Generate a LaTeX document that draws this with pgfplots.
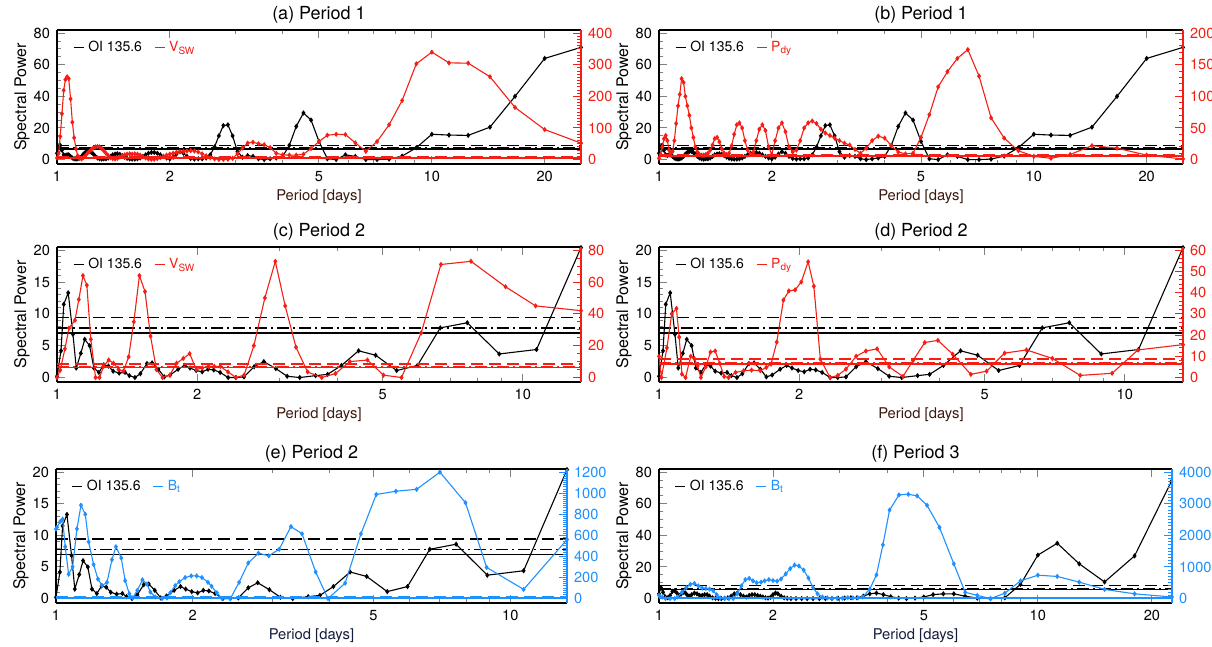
\documentclass[border=0pt]{standalone}
\usepackage{fontspec}
\setmainfont{TeX Gyre Heros}
\usepackage{pgfplots}
\pgfplotsset{compat=1.18}
\usepackage{pgfplotstable}
\definecolor{myred}{RGB}{245,30,20}
\definecolor{myblue}{RGB}{30,144,255}
\definecolor{lblA}{RGB}{60,25,15}
\definecolor{lblB}{RGB}{20,30,60}

\pgfplotstableread{
P V
1.000 4
1.010 8
1.020 9
1.031 6
1.042 3
1.053 2.5
1.064 3
1.075 3
1.087 2
1.099 1
1.111 0.5
1.124 0.3
1.136 0.5
1.149 1
1.163 2
1.176 3.5
1.190 4.5
1.205 5
1.220 5.2
1.235 4.5
1.250 3.5
1.266 2
1.282 1
1.299 0.5
1.316 0.3
1.333 0.5
1.351 0.5
1.370 1
1.389 2
1.408 3
1.429 3.5
1.449 3.7
1.471 3.3
1.493 2.5
1.515 1.5
1.538 0.8
1.563 0.4
1.587 0.3
1.613 0.3
1.639 0.5
1.667 1
1.695 2
1.724 3
1.754 4
1.786 4.5
1.818 4.5
1.852 4
1.887 3
1.923 2
1.961 1
2.000 0.5
2.041 1.5
2.083 3.5
2.128 5
2.174 4
2.222 2
2.273 0.7
2.326 0.3
2.381 0.5
2.439 0.5
2.500 1
2.564 3
2.632 8
2.703 15
2.778 21.5
2.857 22
2.941 15
3.030 5
3.125 1.5
3.226 2.5
3.333 2
3.448 0.5
3.571 0
3.704 0.5
3.846 1
4.000 2
4.167 9
4.348 21
4.545 29.5
4.762 25
5.000 11.5
5.263 0.5
5.556 0
5.882 3
6.250 2
6.667 0
7.143 0
7.692 0.3
8.333 2.2
9.091 7.5
10.00 16
11.11 15.5
12.50 15.3
14.29 20.5
16.67 40
20.00 64
25.00 71
}\blackA

\pgfplotstableread{
P V
1.000 5
1.010 20
1.020 73
1.031 145
1.042 219
1.053 253
1.064 262
1.075 256
1.087 192
1.099 118
1.111 69
1.124 34
1.136 12
1.149 3
1.163 2
1.176 6
1.190 12
1.205 20
1.220 26
1.235 32
1.250 37
1.266 40
1.282 41
1.299 40
1.316 35
1.333 28
1.351 20
1.370 12
1.389 6
1.408 3
1.429 2
1.449 4
1.471 8
1.493 12
1.515 15
1.538 17
1.563 18
1.587 17
1.613 18
1.639 17
1.667 14
1.695 9
1.724 5
1.754 2
1.786 1
1.818 1
1.852 3
1.887 6
1.923 10
1.961 14
2.000 17
2.041 20
2.083 23
2.128 25
2.174 26
2.222 27
2.273 28
2.326 27
2.381 24
2.439 18
2.500 12
2.564 6
2.632 2
2.703 0.5
2.778 0.5
2.857 1
2.941 4
3.030 18
3.125 37
3.226 52
3.333 55
3.448 50
3.571 47
3.704 38
3.846 20
4.000 15
4.167 14
4.348 14
4.545 17
4.762 35
5.000 57
5.263 77
5.556 80
5.882 79
6.250 53
6.667 26
7.143 57
7.692 110
8.333 187
9.091 303
10.00 340
11.11 306
12.50 305
14.29 262
16.67 165
20.00 95
25.00 52
}\redA

\pgfplotstableread{
P V
1.000 2
1.010 8
1.020 20
1.031 33
1.042 38
1.053 30
1.064 15
1.075 10
1.087 13
1.099 30
1.111 57
1.124 85
1.136 103
1.149 128
1.163 122
1.176 100
1.190 85
1.205 70
1.220 50
1.235 35
1.250 20
1.266 12
1.282 8
1.299 7
1.316 7
1.333 8
1.351 10
1.370 15
1.389 23
1.408 33
1.429 35
1.449 28
1.471 17
1.493 10
1.515 8
1.538 10
1.563 22
1.587 40
1.613 55
1.639 58
1.667 50
1.695 30
1.724 15
1.754 8
1.786 12
1.818 30
1.852 48
1.887 55
1.923 46
1.961 20
2.000 8
2.041 30
2.083 50
2.128 58
2.174 44
2.222 20
2.273 12
2.326 15
2.381 30
2.439 50
2.500 58
2.564 61
2.632 57
2.703 48
2.778 42
2.857 38
2.941 34
3.030 30
3.125 26
3.226 23
3.333 16
3.448 10
3.571 18
3.704 30
3.846 37
4.000 34
4.167 22
4.348 12
4.545 9
4.762 10
5.000 35
5.263 71
5.556 115
5.882 139
6.250 160
6.667 174
7.143 132
7.692 66
8.333 34
9.091 14
10.00 5
11.11 2
12.50 8
14.29 22
16.67 18
20.00 7
25.00 1
}\redB

\pgfplotstableread{
P V
1.000 0.2
1.020 4.2
1.034 11.5
1.057 13.3
1.082 6.8
1.100 1.5
1.125 3.8
1.147 6.0
1.175 5.0
1.200 1.5
1.230 0.8
1.260 2.0
1.290 1.8
1.320 1.0
1.360 0.7
1.400 0.8
1.430 0.3
1.470 0
1.510 0.6
1.560 2.2
1.600 2.3
1.650 1.3
1.700 0.1
1.750 0.4
1.820 1.3
1.880 1.9
1.930 1.5
1.990 1.1
2.050 0.9
2.110 1.3
2.170 1.2
2.240 0.8
2.330 0
2.420 0
2.520 0.1
2.650 1.7
2.780 2.5
2.950 1.4
3.120 0.2
3.320 0
3.590 0.3
3.810 0.5
4.080 1.9
4.440 4.2
4.830 3.5
5.360 1.1
5.940 1.9
6.650 7.8
7.600 8.6
8.900 3.7
10.70 4.4
13.33 20.4
}\blackC

\pgfplotstableread{
P V
1.000 0
1.016 4.6
1.040 18
1.061 31
1.093 36
1.114 49
1.137 64
1.159 58
1.182 24
1.210 0
1.234 0
1.259 7
1.291 11
1.322 9
1.356 5
1.389 4
1.425 13
1.462 35
1.503 64
1.545 54
1.588 26
1.635 5
1.685 0
1.746 1.5
1.806 9
1.867 12
1.927 15
1.991 5
2.051 6
2.113 7
2.176 7
2.241 7
2.329 3.5
2.423 0
2.521 1.5
2.646 20
2.794 50
2.942 73
3.089 45
3.259 19
3.452 3.5
3.701 0
3.962 2.5
4.252 10
4.639 11
5.022 1.5
5.490 0
6.050 28
6.670 71
7.740 73
9.180 57
10.65 45
13.33 42
}\redC

\pgfplotstableread{
P V
1.000 10
1.012 0
1.040 14
1.065 30
1.090 32.5
1.105 19
1.120 1.6
1.140 0
1.170 10
1.190 9
1.210 5.5
1.230 0
1.260 5
1.290 12
1.320 12.5
1.350 6.7
1.380 0.5
1.410 0
1.460 2.4
1.520 3.2
1.580 3.5
1.650 3.2
1.700 4.8
1.740 6.3
1.790 16.7
1.850 36.5
1.900 40.8
1.960 41.3
2.020 45
2.090 54.5
2.150 43
2.220 8.7
2.330 0
2.420 1
2.520 4
2.650 10
2.780 12.5
2.940 13.5
3.120 5
3.340 0.5
3.510 8
3.720 16.5
3.970 17.5
4.270 11
4.670 1.5
5.050 3
5.520 11.5
6.150 13
6.990 9
8.020 1
9.390 2
10.67 13
13.33 15.5
}\redD

\pgfplotstableread{
P V
1.000 660
1.005 677
1.022 732
1.034 754
1.048 492
1.066 231
1.088 302
1.112 662
1.135 886
1.160 800
1.180 538
1.210 323
1.237 185
1.263 123
1.295 154
1.328 369
1.355 492
1.392 385
1.420 169
1.450 46
1.475 6
1.510 77
1.550 178
1.586 138
1.613 62
1.654 15
1.712 0
1.755 6
1.785 55
1.830 123
1.868 160
1.925 200
1.985 215
2.040 215
2.095 200
2.160 154
2.200 117
2.260 55
2.320 0
2.420 0
2.530 154
2.650 338
2.790 431
2.940 406
3.100 468
3.290 683
3.480 615
3.730 252
3.970 0
4.330 146
4.690 614
5.070 988
5.600 1019
6.220 1037
7.000 1200
7.970 910
8.870 296
10.70 87
13.33 560
}\blueE

\pgfplotstableread{
P V
1.000 3
1.012 7
1.025 4
1.040 1
1.055 0.5
1.070 2
1.085 4.5
1.100 5
1.115 3.5
1.130 2
1.145 3
1.160 4
1.175 3.5
1.190 2
1.205 1.5
1.220 2.5
1.240 3.5
1.260 3
1.280 2
1.300 2
1.320 2.5
1.340 2.5
1.360 1.5
1.385 0.5
1.410 0.2
1.435 0
1.460 0
1.490 0.2
1.520 0.5
1.550 1.5
1.580 3
1.610 3.5
1.640 2.5
1.670 1.5
1.700 1
1.730 2
1.760 2.5
1.790 2.5
1.820 2
1.850 1.5
1.880 1
1.910 0.5
1.940 0.3
1.970 0.8
2.000 2.5
2.030 3.5
2.060 3
2.100 1.5
2.140 0.5
2.180 0.2
2.230 0
2.300 0
2.380 0
2.460 0
2.550 0
2.650 0
2.750 0
2.860 0
2.970 0.2
3.090 0.3
3.210 0.5
3.330 0.5
3.460 1.5
3.600 3
3.750 3.5
3.910 2.5
4.090 1.2
4.290 0.3
4.500 0
4.740 0.3
5.000 1
5.290 2.5
5.630 3
6.000 3
6.430 1.5
6.920 0.3
7.500 0
8.180 0.5
9.000 9
10.00 27.5
11.25 35
12.86 22
15.00 10.5
18.00 27
22.50 74
}\blackF

\pgfplotstableread{
P V
1.000 100
1.020 50
1.040 0
1.070 0
1.100 0
1.120 50
1.150 200
1.180 350
1.210 450
1.240 480
1.270 400
1.300 330
1.330 320
1.360 300
1.390 250
1.420 120
1.450 20
1.490 0
1.530 0
1.570 0
1.610 150
1.650 400
1.690 600
1.730 640
1.770 560
1.810 500
1.860 520
1.900 560
1.950 600
2.000 570
2.050 550
2.100 620
2.160 780
2.220 950
2.280 1060
2.340 1030
2.410 900
2.480 650
2.550 350
2.620 150
2.700 50
2.780 20
2.860 0
2.950 10
3.050 10
3.150 30
3.250 20
3.350 20
3.450 50
3.600 300
3.750 750
3.900 1700
4.060 2800
4.300 3280
4.550 3300
4.800 3250
5.100 2950
5.500 2250
6.000 1100
6.430 200
6.920 100
7.500 0
8.180 170
9.000 560
10.00 740
11.25 700
12.86 520
15.00 290
18.00 150
22.60 50
}\blueF

\newcommand{\sig}[5]{%
  \addplot[#1, line width=0.7pt, dash pattern=on 6pt off 3pt, forget plot] coordinates {(1,#3) (#2,#3)};
  \addplot[#1, line width=0.7pt, dash pattern=on 6pt off 2pt on 1pt off 2pt, forget plot] coordinates {(1,#4) (#2,#4)};
  \addplot[#1, line width=0.7pt, forget plot] coordinates {(1,#5) (#2,#5)};
}

\pgfplotsset{
  legend image code/.code={\draw[#1, mark=none, line width=0.6pt] (0pt,0pt) -- (5pt,0pt);},
  every axis/.append style={scale only axis, xmode=log, xmin=1,
    xtick={1,2,5,10,20}, xticklabels={1,2,5,10,20},
    minor xtick={3,4,6,7,8,9},
    tick align=inside, major tick length=4pt, minor tick length=2pt,
    tick style={line width=0.5pt},
    ticklabel style={font=\fontsize{7.3}{8}\selectfont},
    /pgf/number format/assume math mode=true,
    /pgf/number format/1000 sep={},
    axis line style={line width=0.6pt},
    legend style={at={(axis description cs:0.03,0.95)}, anchor=north west, draw=none, fill=none,
      font=\fontsize{7}{8}\selectfont, inner sep=0pt,
      /tikz/every even column/.append style={column sep=4pt}},
    legend columns=2,
  },
  every axis title/.style={at={(axis description cs:0.5,1)}, anchor=center, yshift=7.5pt,
    font=\fontsize{9}{10}\selectfont},
  lax/.style={axis y line*=left, ylabel={Spectral Power}, xlabel={Period [days]},
    every axis y label/.style={at={(axis description cs:0,0.5)}, rotate=90, anchor=center, yshift=17.5pt, font=\fontsize{8}{9}\selectfont},
    every axis x label/.style={at={(axis description cs:0.5,0)}, anchor=center, yshift=-16.5pt, font=\fontsize{7.4}{9}\selectfont}},
  rax/.style={axis x line=none, axis y line*=right, y axis line style={#1}, ytick style={#1}, yticklabel style={#1}},
}

\begin{document}
\begin{tikzpicture}
\path[use as bounding box] (0,0) rectangle (606pt,323.5pt);

% ---------- (a)
\begin{axis}[lax, x label style={text=lblA},
  at={(28.5pt,241.5pt)}, anchor=south west, width=262pt, height=67pt,
  xmax=25, ymin=-2.8, ymax=82, ytick={0,20,40,60,80}, minor y tick num=3,
  title={(a) Period 1}]
  \sig{black}{25}{9}{7.3}{6.7}
  \addplot[black, line width=0.55pt, mark=diamond*, mark size=0.9pt] table {\blackA};
\end{axis}
\begin{axis}[rax=myred,
  at={(28.5pt,241.5pt)}, anchor=south west, width=262pt, height=67pt,
  xmax=25, ymin=-14, ymax=410, ytick={0,100,200,300,400}, minor y tick num=9]
  \addlegendimage{black}\addlegendentry{OI 135.6}
  \sig{myred}{25}{8}{6}{5}
  \addplot[myred, line width=0.55pt, mark=diamond*, mark size=0.9pt] table {\redA};
  \addlegendentry{\textcolor{myred}{V\textsubscript{SW}}}
\end{axis}

% ---------- (b)
\begin{axis}[lax, x label style={text=lblA},
  at={(329.5pt,241.5pt)}, anchor=south west, width=262pt, height=67pt,
  xmax=25, ymin=-2.8, ymax=82, ytick={0,20,40,60,80}, minor y tick num=3,
  title={(b) Period 1}]
  \sig{black}{25}{9}{7.3}{6.7}
  \addplot[black, line width=0.55pt, mark=diamond*, mark size=0.9pt] table {\blackA};
\end{axis}
\begin{axis}[rax=myred,
  at={(329.5pt,241.5pt)}, anchor=south west, width=262pt, height=67pt,
  xmax=25, ymin=-7, ymax=205, ytick={0,50,100,150,200}, minor y tick num=4]
  \addlegendimage{black}\addlegendentry{OI 135.6}
  \sig{myred}{25}{8}{6.5}{5.5}
  \addplot[myred, line width=0.55pt, mark=diamond*, mark size=0.9pt] table {\redB};
  \addlegendentry{\textcolor{myred}{P\textsubscript{dy}}}
\end{axis}

% ---------- (c)
\begin{axis}[lax, x label style={text=lblA},
  at={(28.5pt,132.5pt)}, anchor=south west, width=262pt, height=67.5pt,
  xmax=13.33, ymin=-0.7, ymax=20.5, ytick={0,5,10,15,20}, minor y tick num=4,
  title={(c) Period 2}]
  \sig{black}{13.33}{9.4}{7.8}{7.0}
  \addplot[black, line width=0.55pt, mark=diamond*, mark size=0.9pt] table {\blackC};
\end{axis}
\begin{axis}[rax=myred,
  at={(28.5pt,132.5pt)}, anchor=south west, width=262pt, height=67.5pt,
  xmax=13.33, ymin=-2.8, ymax=82, ytick={0,20,40,60,80}, minor y tick num=3]
  \addlegendimage{black}\addlegendentry{OI 135.6}
  \sig{myred}{13.33}{8.5}{7}{6.3}
  \addplot[myred, line width=0.55pt, mark=diamond*, mark size=0.9pt] table {\redC};
  \addlegendentry{\textcolor{myred}{V\textsubscript{SW}}}
\end{axis}

% ---------- (d)
\begin{axis}[lax, x label style={text=lblA},
  at={(329.5pt,132.5pt)}, anchor=south west, width=262pt, height=67.5pt,
  xmax=13.33, ymin=-0.7, ymax=20.5, ytick={0,5,10,15,20}, minor y tick num=4,
  title={(d) Period 2}]
  \sig{black}{13.33}{9.4}{7.8}{7.0}
  \addplot[black, line width=0.55pt, mark=diamond*, mark size=0.9pt] table {\blackC};
\end{axis}
\begin{axis}[rax=myred,
  at={(329.5pt,132.5pt)}, anchor=south west, width=262pt, height=67.5pt,
  xmax=13.33, ymin=-2.1, ymax=61.5, ytick={0,10,20,30,40,50,60}, minor y tick num=4]
  \addlegendimage{black}\addlegendentry{OI 135.6}
  \sig{myred}{13.33}{8.7}{7.2}{6.3}
  \addplot[myred, line width=0.55pt, mark=diamond*, mark size=0.9pt] table {\redD};
  \addlegendentry{\textcolor{myred}{P\textsubscript{dy}}}
\end{axis}

% ---------- (e)
\begin{axis}[lax, x label style={text=lblB},
  at={(28pt,22pt)}, anchor=south west, width=255.5pt, height=67pt,
  xmax=13.33, ymin=-0.7, ymax=20.5, ytick={0,5,10,15,20}, minor y tick num=4,
  title={(e) Period 2}]
  \sig{black}{13.33}{9.4}{7.8}{7.0}
  \addplot[black, line width=0.55pt, mark=diamond*, mark size=0.9pt] table {\blackC};
\end{axis}
\begin{axis}[rax=myblue,
  at={(28pt,22pt)}, anchor=south west, width=255.5pt, height=67pt,
  xmax=13.33, ymin=-42, ymax=1230, ytick={0,200,400,600,800,1000,1200}, minor y tick num=9]
  \addlegendimage{black}\addlegendentry{OI 135.6}
  \sig{myblue}{13.33}{14}{9}{5}
  \addplot[myblue, line width=0.55pt, mark=diamond*, mark size=0.9pt] table {\blueE};
  \addlegendentry{\textcolor{myblue}{B\textsubscript{t}}}
\end{axis}

% ---------- (f)
\begin{axis}[lax, x label style={text=lblB},
  at={(329.5pt,22pt)}, anchor=south west, width=256.5pt, height=67pt,
  xmax=22.6, ymin=-2.8, ymax=82, ytick={0,20,40,60,80}, minor y tick num=3,
  title={(f) Period 3}]
  \sig{black}{22.6}{8.2}{6.5}{5.8}
  \addplot[black, line width=0.55pt, mark=diamond*, mark size=0.9pt] table {\blackF};
\end{axis}
\begin{axis}[rax=myblue,
  at={(329.5pt,22pt)}, anchor=south west, width=256.5pt, height=67pt,
  xmax=22.6, ymin=-140, ymax=4100, ytick={0,1000,2000,3000,4000}, minor y tick num=9]
  \addlegendimage{black}\addlegendentry{OI 135.6}
  \sig{myblue}{22.6}{40}{28}{20}
  \addplot[myblue, line width=0.55pt, mark=diamond*, mark size=0.9pt] table {\blueF};
  \addlegendentry{\textcolor{myblue}{B\textsubscript{t}}}
\end{axis}
\end{tikzpicture}
\end{document}
